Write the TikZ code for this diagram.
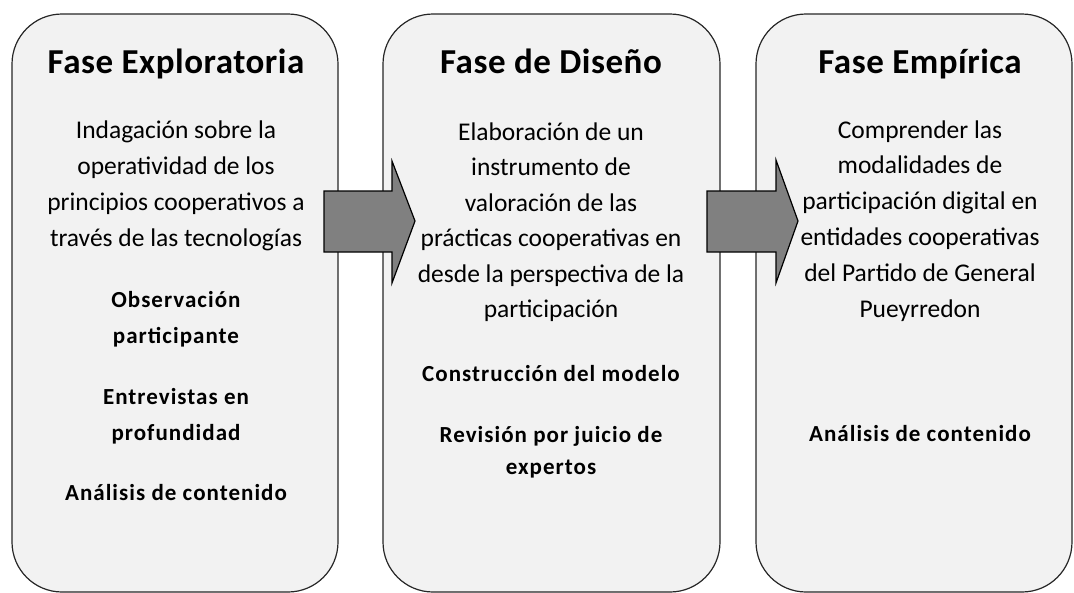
\documentclass[tikz,border=0pt]{standalone}
\usepackage{fontspec}
\setmainfont{Carlito}
\begin{document}
\begin{tikzpicture}[x=1pt,y=-1pt,
  phasebox/.style={draw=black!85,line width=1.2pt,fill=black!5,rounded corners=50pt,inner sep=0pt},
  bigarrow/.style={draw=black,line width=1.2pt,fill=black!50,line join=miter},
  title/.style={anchor=base,font=\fontsize{35}{36}\selectfont\bfseries\addfontfeature{LetterSpace=1.5},inner sep=0pt},
  body/.style={anchor=base,font=\fontsize{25.5}{36}\selectfont,inner sep=0pt},
  item/.style={anchor=base,font=\fontsize{23}{36}\selectfont\bfseries\addfontfeature{LetterSpace=4.5},inner sep=0pt}]
\useasboundingbox (0,0) rectangle (1074,592);
% boxes
\node[phasebox,minimum width=326pt,minimum height=578pt] (box1) at (175,303) {};
\node[phasebox,minimum width=337pt,minimum height=578pt] (box2) at (551.5,303) {};
\node[phasebox,minimum width=316pt,minimum height=578pt] (box3) at (914,303) {};
% arrows
\draw[bigarrow] (324,191) -- (392,191) -- (392,161) -- (415,221) -- (392,283) -- (392,252) -- (324,252) -- cycle;
\draw[bigarrow] (707,191) -- (776,191) -- (776,160) -- (798,221) -- (776,283) -- (776,252) -- (707,252) -- cycle;
% box 1
\node[title] (t1) at (176,73) {Fase Exploratoria};
\foreach \t [count=\i] in {Indagación sobre la,operatividad de los,principios cooperativos a,través de las tecnologías}
  \node[body] (a\i) at (176,138+36*\i-36) {\t};
\node[item] (a5) at (176,307) {Observación};
\node[item] (a6) at (176,343) {participante};
\node[item] (a7) at (176,404) {Entrevistas en};
\node[item] (a8) at (176,440) {profundidad};
\node[item] (a9) at (176,500) {Análisis de contenido};
% box 2
\node[title] (t2) at (551,73) {Fase de Diseño};
\foreach \t [count=\i] in {Elaboración de un,instrumento de,valoración de las,prácticas cooperativas en,desde la perspectiva de la,participación}
  \node[body] (b\i) at (551,140+35.5*\i-35.5) {\t};
\node[item] (b7) at (551,381) {Construcción del modelo};
\node[item] (b8) at (551,442) {Revisión por juicio de};
\node[item] (b9) at (551,474) {expertos};
% box 3
\node[title] (t3) at (920,73) {Fase Empírica};
\foreach \t [count=\i] in {Comprender las,modalidades de,participación digital en,entidades cooperativas,del Partido de General,Pueyrredon}
  \node[body] (c\i) at (920,138+35.8*\i-35.8) {\t};
\node[item] (c7) at (920,441) {Análisis de contenido};
\end{tikzpicture}
\end{document}
